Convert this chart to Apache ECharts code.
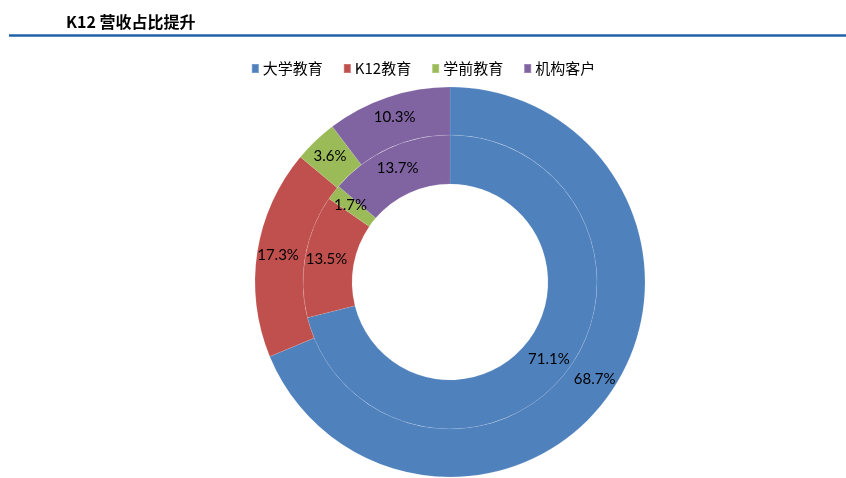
<!DOCTYPE html>
<html><head><meta charset="utf-8">
<script src="https://cdn.jsdelivr.net/npm/echarts@6/dist/echarts.min.js"></script>
<style>html,body{margin:0;padding:0;background:#fff}#c{width:846px;height:478px}</style>
</head><body><div id="c"></div>
<script>
const categories = ['大学教育', 'K12教育', '学前教育', '机构客户'];
const innerValues = [71.1, 13.5, 1.7, 13.7];
const outerValues = [68.7, 17.3, 3.6, 10.3];
const colors = ['#4F81BD', '#C0504D', '#9BBB59', '#8064A2'];

const chart = echarts.init(document.getElementById('c'));
const mk = vals => categories.map((n, i) => ({ name: n, value: vals[i] }));
const labelCfg = {
  show: true, position: 'inside', color: '#000', fontSize: 15,
  fontFamily: 'Lato, "Open Sans", sans-serif',
  formatter: p => p.value.toFixed(1) + '%'
};
chart.setOption({
  animation: false,
  color: colors,
  title: {
    text: 'K12 营收占比提升', left: 61, top: 9,
    textStyle: { fontSize: 16, fontWeight: 'bold', color: '#000', fontFamily: '"Noto Sans CJK SC", sans-serif' }
  },
  graphic: [{
    type: 'line', shape: { x1: 9, y1: 35.5, x2: 846, y2: 35.5 },
    style: { stroke: '#1F62A8', lineWidth: 2.5 }
  }],
  legend: {
    data: categories, top: 56, left: 'center',
    itemWidth: 7, itemHeight: 9, itemGap: 20,
    icon: 'rect',
    textStyle: { fontSize: 15, color: '#000', fontFamily: '"Noto Sans CJK SC", serif', padding: [0, 0, 0, -1] }
  },
  series: [
    {
      type: 'pie', name: 'inner', center: [450, 282], radius: [98, 147],
      startAngle: 90, clockwise: true,
      itemStyle: { borderColor: 'rgba(255,255,255,0.2)', borderWidth: 0.5 },
      label: labelCfg, labelLine: { show: false }, emphasis: { disabled: true },
      data: mk(innerValues)
    },
    {
      type: 'pie', name: 'outer', center: [450, 282], radius: [147, 195],
      startAngle: 90, clockwise: true,
      itemStyle: { borderColor: 'rgba(255,255,255,0.2)', borderWidth: 0.5 },
      label: labelCfg, labelLine: { show: false }, emphasis: { disabled: true },
      data: mk(outerValues)
    }
  ]
});
</script></body></html>
